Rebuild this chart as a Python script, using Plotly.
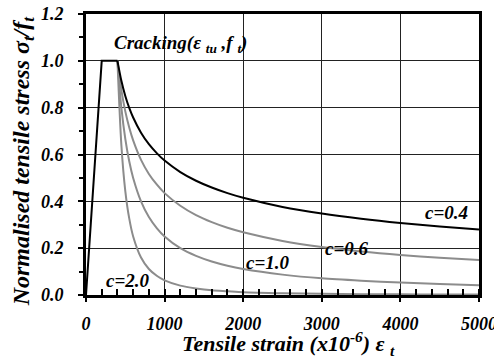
import plotly.graph_objects as go

# ---- data ----
strain_rise = [0, 200, 400]
stress_rise = [0.0, 1.0, 1.0]

strain_soft = [400, 450, 500, 550, 600, 700, 800, 900, 1000, 1200, 1400, 1600,
               1800, 2000, 2500, 3000, 3500, 4000, 4500, 5000]
stress_c04 = [1.0, 0.915, 0.850, 0.799, 0.758, 0.693, 0.644, 0.606, 0.574, 0.525,
              0.488, 0.459, 0.435, 0.415, 0.376, 0.348, 0.326, 0.308, 0.293, 0.280]
stress_c06 = [1.0, 0.875, 0.784, 0.715, 0.660, 0.577, 0.517, 0.472, 0.435, 0.381,
              0.341, 0.311, 0.287, 0.268, 0.231, 0.205, 0.186, 0.171, 0.159, 0.149]
stress_c10 = [1.0, 0.800, 0.667, 0.571, 0.500, 0.400, 0.333, 0.286, 0.250, 0.200,
              0.167, 0.143, 0.125, 0.111, 0.087, 0.071, 0.061, 0.053, 0.047, 0.042]
stress_c20 = [1.0, 0.640, 0.444, 0.327, 0.250, 0.160, 0.111, 0.082, 0.0625, 0.040,
              0.028, 0.020, 0.016, 0.012, 0.0076, 0.0051, 0.0037, 0.0028, 0.0022, 0.0017]

x_tick_vals = [0, 1000, 2000, 3000, 4000, 5000]
x_tick_text = ["0", "1000", "2000", "3000", "4000", "5000"]
y_tick_vals = [0.0, 0.2, 0.4, 0.6, 0.8, 1.0, 1.2]
y_tick_text = ["0.0", "0.2", "0.4", "0.6", "0.8", "1.0", "1.2"]
x_minor_vals = list(range(0, 5001, 200))
y_minor_vals = [i / 10 for i in range(13)]

curve_labels = ["c=0.4", "c=0.6", "c=1.0", "c=2.0"]
label_x = [4590, 3320, 2320, 540]
label_y = [0.353, 0.2, 0.14, 0.064]

FONT = "Liberation Serif"
GRAY = "#8c8c8c"

fig = go.Figure()
for ys in [stress_c20, stress_c10, stress_c06]:
    fig.add_trace(go.Scatter(x=strain_soft, y=ys, mode="lines",
                             line=dict(color=GRAY, width=2, shape="spline", smoothing=0.8),
                             showlegend=False, hoverinfo="skip"))
fig.add_trace(go.Scatter(x=strain_soft, y=stress_c04, mode="lines",
                         line=dict(color="black", width=2, shape="spline", smoothing=0.8),
                         showlegend=False, hoverinfo="skip"))
fig.add_trace(go.Scatter(x=strain_rise, y=stress_rise, mode="lines",
                         line=dict(color="black", width=2),
                         showlegend=False, hoverinfo="skip"))

tickfont = dict(family=FONT, size=18, color="black", weight="bold", style="italic")

fig.update_layout(
    width=494, height=362,
    margin=dict(l=86, r=15, t=14, b=67, autoexpand=False),
    paper_bgcolor="white", plot_bgcolor="white",
    showlegend=False,
    xaxis=dict(range=[0, 5000], tickmode="array", tickvals=x_tick_vals, ticktext=x_tick_text,
               showline=True, linecolor="black", linewidth=3, mirror=True,
               showgrid=True, gridcolor="#222", gridwidth=1.2,
               ticks="outside", ticklen=4, tickwidth=2, tickcolor="black",
               ticklabelstandoff=6, ticklabeloverflow="allow", automargin=False,
               minor=dict(tickmode="array", tickvals=x_minor_vals, ticks="inside",
                          ticklen=6, tickwidth=1.5, tickcolor="black", showgrid=False),
               tickfont=tickfont, zeroline=False),
    yaxis=dict(range=[0, 1.2], tickmode="array", tickvals=y_tick_vals, ticktext=y_tick_text,
               showline=True, linecolor="black", linewidth=3, mirror=True,
               showgrid=True, gridcolor="#222", gridwidth=1.2,
               ticks="outside", ticklen=5, tickwidth=2, tickcolor="black",
               ticklabelstandoff=11, ticklabeloverflow="allow", automargin=False,
               minor=dict(tickmode="array", tickvals=y_minor_vals, ticks="outside",
                          ticklen=4, tickwidth=1.5, tickcolor="black", showgrid=False),
               tickfont=tickfont, zeroline=False),
)

annfont = dict(family=FONT, size=19, color="black", weight="bold", style="italic")
for t, xv, yv in zip(curve_labels, label_x, label_y):
    fig.add_annotation(x=xv, y=yv, text=t, showarrow=False, font=annfont,
                       xanchor="center", yanchor="middle")

fig.add_annotation(x=1196, y=1.07, text="Cracking(ε <sub>tu</sub> ,f <sub>t</sub>)",
                   showarrow=False, font=annfont, xanchor="center", yanchor="middle")

fig.add_annotation(xref="paper", yref="paper", x=0.516, y=-0.171,
                   text="Tensile strain (x10<sup>-6</sup>) ε <sub>t</sub>",
                   showarrow=False,
                   font=dict(family=FONT, size=22, color="black", weight="bold", style="italic"),
                   xanchor="center", yanchor="middle")
fig.add_annotation(xref="paper", yref="paper", x=-0.16, y=0.476,
                   text="Normalised tensile stress σ<sub>t</sub>/f<sub>t</sub>",
                   textangle=-90, showarrow=False,
                   font=dict(family=FONT, size=24, color="black", weight="bold", style="italic"),
                   xanchor="center", yanchor="middle")

fig.write_html("out.html", post_script="document.body.style.margin='0px';",
               config={"displayModeBar": False})
